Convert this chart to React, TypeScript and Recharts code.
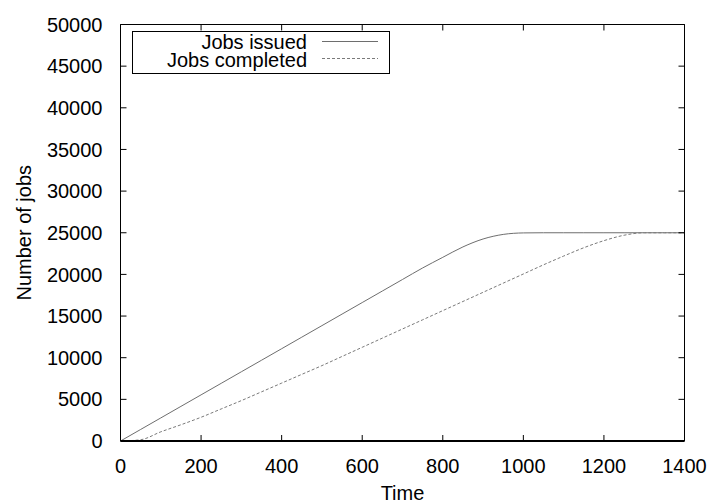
import React from 'react';
import { LineChart, Line, XAxis, YAxis, Legend } from 'recharts';

// time steps (x) and the two cumulative job counts
const time = [
  0, 50, 100, 150, 200, 250, 300, 350, 400, 450, 500, 550, 600, 650, 700,
  750, 800, 850, 900, 950, 1000, 1050, 1100, 1150, 1200, 1250, 1300, 1350, 1400,
];
const issued = [
  0, 1385, 2770, 4155, 5540, 6925, 8310, 9695, 11080, 12465, 13850, 15235, 16620, 18005, 19390,
  20775, 22050, 23300, 24250, 24800, 24980, 25000, 25000, 25000, 25000, 25000, 25000, 25000, 25000,
];
const completed = [
  0, 150, 1100, 1950, 2850, 3850, 4850, 5900, 6950, 8000, 9050, 10150, 11250, 12350, 13450,
  14550, 15650, 16750, 17850, 18950, 20050, 21150, 22200, 23200, 24050, 24700, 25000, 25000, 25000,
];
const seriesNames = ['Jobs issued', 'Jobs completed'];
const xTicks = [0, 200, 400, 600, 800, 1000, 1200, 1400];
const yTicks = [0, 5000, 10000, 15000, 20000, 25000, 30000, 35000, 40000, 45000, 50000];

const data = time.map((t, i) => ({ t, issued: issued[i], completed: completed[i] }));

const font = '"Liberation Sans", Arial, Helvetica, sans-serif';
const solidGray = '#6e6e6e';
const dashGray = '#7a7a7a';
const tickFont = { fill: '#000', fontSize: 20, fontFamily: font };

// mirrored axes (top/right): tick marks only, no labels
const noLabel = () => <g />;

const renderXTitle = (props: any) => {
  const vb = props.viewBox;
  return (
    <text x={vb.x + vb.width / 2} y={vb.y + 59} textAnchor="middle" fontSize={20} fontFamily={font} fill="#000">
      Time
    </text>
  );
};

const renderYTitle = (props: any) => {
  const vb = props.viewBox;
  const cx = 31;
  const cy = vb.y + vb.height / 2;
  return (
    <text
      x={cx}
      y={cy}
      textAnchor="middle"
      transform={`rotate(-90, ${cx}, ${cy})`}
      fontSize={20}
      fontFamily={font}
      fill="#000"
    >
      Number of jobs
    </text>
  );
};

const renderLegend = (props: any) => {
  const items = (props.payload || [])
    .filter((p: any) => p.type !== 'none')
    .sort((a: any, b: any) => seriesNames.indexOf(a.value) - seriesNames.indexOf(b.value));
  return (
    <svg width={258} height={43} style={{ display: 'block' }}>
      <rect x={0.5} y={0.5} width={257} height={42} fill="#fff" stroke="#000" />
      {items.map((p: any, i: number) => (
        <g key={p.value}>
          <text x={175} y={17.5 + i * 18} textAnchor="end" fontSize={20} fontFamily={font} fill="#000">
            {p.value}
          </text>
          <line
            x1={190}
            x2={246}
            y1={10.5 + i * 17}
            y2={10.5 + i * 17}
            stroke={p.color}
            strokeDasharray={p.payload && p.payload.strokeDasharray}
          />
        </g>
      ))}
    </svg>
  );
};

export default function App() {
  return (
    <div style={{ position: 'absolute', left: 0, top: 0, width: 720, height: 504, background: '#fff' }}>
      <LineChart width={720} height={504} data={data} margin={{ top: 23.5, right: 34.5, bottom: 0, left: 0 }}>
        <XAxis
          dataKey="t"
          type="number"
          domain={[0, 1400]}
          ticks={xTicks}
          interval={0}
          height={63}
          tickSize={-6}
          tickMargin={24}
          axisLine={{ stroke: '#000', strokeWidth: 2 }}
          tickLine={{ stroke: '#000' }}
          tick={tickFont}
          label={{ value: 'Time', content: renderXTitle }}
        />
        <XAxis
          xAxisId="top"
          dataKey="t"
          type="number"
          orientation="top"
          domain={[0, 1400]}
          ticks={xTicks}
          interval={0}
          height={1}
          tickSize={-6}
          axisLine={{ stroke: '#000' }}
          tickLine={{ stroke: '#000' }}
          tick={noLabel}
        />
        <YAxis
          type="number"
          domain={[0, 50000]}
          ticks={yTicks}
          interval={0}
          width={120.5}
          tickSize={-6}
          tickMargin={24}
          axisLine={{ stroke: '#000' }}
          tickLine={{ stroke: '#000' }}
          tick={tickFont}
          label={{ value: 'Number of jobs', content: renderYTitle }}
        />
        <YAxis
          yAxisId="right"
          type="number"
          orientation="right"
          domain={[0, 50000]}
          ticks={yTicks}
          interval={0}
          width={1}
          tickSize={-6}
          axisLine={{ stroke: '#000' }}
          tickLine={{ stroke: '#000' }}
          tick={noLabel}
        />
        <Legend
          layout="vertical"
          align="center"
          verticalAlign="middle"
          wrapperStyle={{ left: 132, top: 31, width: 258, height: 43 }}
          content={renderLegend}
        />
        <Line
          type="monotone"
          dataKey="issued"
          name={seriesNames[0]}
          stroke={solidGray}
          strokeWidth={1}
          dot={false}
          activeDot={false}
          isAnimationActive={false}
        />
        <Line
          type="monotone"
          dataKey="completed"
          name={seriesNames[1]}
          stroke={dashGray}
          strokeWidth={1}
          strokeDasharray="3 2"
          dot={false}
          activeDot={false}
          isAnimationActive={false}
        />
        <Line
          xAxisId="top"
          yAxisId="right"
          dataKey="issued"
          stroke="transparent"
          legendType="none"
          dot={false}
          activeDot={false}
          isAnimationActive={false}
        />
      </LineChart>
    </div>
  );
}
